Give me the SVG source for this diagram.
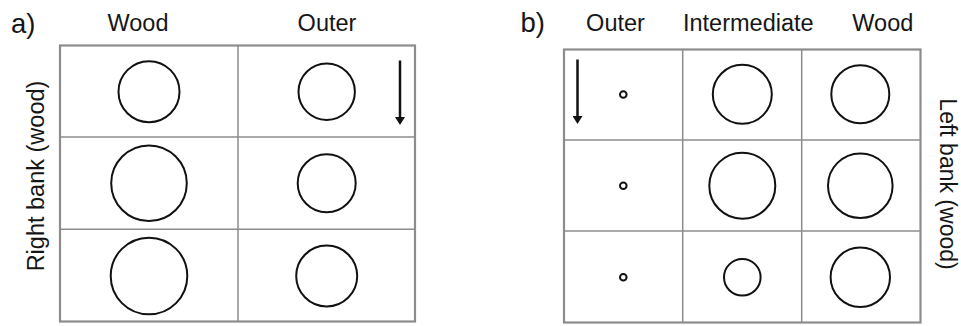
<svg xmlns="http://www.w3.org/2000/svg" width="961" height="326" viewBox="0 0 961 326">
<defs>
<style>
text{font-family:"Liberation Sans",Arial,sans-serif;fill:#161616}
.h{font-size:23.5px;text-anchor:middle}
.p{font-size:27.5px}
.grid{fill:none;stroke:#8c8c8c;stroke-width:1.5}
.frame{fill:none;stroke:#8c8c8c;stroke-width:2.2}
.c{fill:none;stroke:#111;stroke-width:2}
.arr{stroke:#111;stroke-width:2.5;fill:none}
</style>
<marker id="ah" markerWidth="10" markerHeight="10" refX="2" refY="5" orient="auto" markerUnits="userSpaceOnUse" viewBox="0 0 10 10">
<path d="M0,0 L8,5 L0,10 Z" fill="#111"/>
</marker>
</defs>
<g id="panel-a">
<text class="p" x="11" y="32.5">a)</text>
<text class="h" x="138" y="30.5">Wood</text>
<text class="h" x="327" y="30.5">Outer</text>
<text class="h" transform="translate(43.5,176) rotate(-90)" x="0" y="0">Right bank (wood)</text>
<rect class="frame" x="60" y="45.5" width="355" height="276"/>
<line class="grid" x1="238" y1="45.5" x2="238" y2="321.5"/>
<line class="grid" x1="60" y1="137" x2="415" y2="137"/>
<line class="grid" x1="60" y1="229.3" x2="415" y2="229.3"/>
</g>
<g id="a-r1c1"><circle class="c" cx="149" cy="91.7" r="30.5"/></g>
<g id="a-r1c2"><circle class="c" cx="326.7" cy="91.7" r="28.2"/></g>
<g id="a-r2c1"><circle class="c" cx="149" cy="183.3" r="37.8"/></g>
<g id="a-r2c2"><circle class="c" cx="326.7" cy="183.3" r="29"/></g>
<g id="a-r3c1"><circle class="c" cx="149" cy="276" r="38.3"/></g>
<g id="a-r3c2"><circle class="c" cx="326.7" cy="276" r="30.5"/></g>
<g id="panel-b">
<text class="p" x="520.5" y="32">b)</text>
<text class="h" x="615.5" y="31">Outer</text>
<text class="h" x="748.3" y="31">Intermediate</text>
<text class="h" x="882.8" y="31">Wood</text>
<text class="h" style="font-size:23px" transform="translate(939.5,184) rotate(90)" x="0" y="0">Left bank (wood)</text>
<rect class="frame" x="564" y="49.5" width="356.5" height="273"/>
<line class="grid" x1="682.7" y1="49.5" x2="682.7" y2="322.5"/>
<line class="grid" x1="801.7" y1="49.5" x2="801.7" y2="322.5"/>
<line class="grid" x1="564" y1="140" x2="920.5" y2="140"/>
<line class="grid" x1="564" y1="231" x2="920.5" y2="231"/>
</g>
<g id="b-r1c1"><circle class="c" cx="623.3" cy="94.5" r="3.3"/></g>
<g id="b-r2c1"><circle class="c" cx="623.3" cy="185.7" r="3.3"/></g>
<g id="b-r3c1"><circle class="c" cx="623.3" cy="277.3" r="3.3"/></g>
<g id="b-r1c2"><circle class="c" cx="742.3" cy="94.3" r="29.5"/></g>
<g id="b-r2c2"><circle class="c" cx="742.3" cy="185.7" r="33"/></g>
<g id="b-r3c2"><circle class="c" cx="742.3" cy="277.3" r="18.3"/></g>
<g id="b-r1c3"><circle class="c" cx="860.3" cy="94.3" r="29"/></g>
<g id="b-r2c3"><circle class="c" cx="860.3" cy="185.7" r="32.3"/></g>
<g id="b-r3c3"><circle class="c" cx="860.3" cy="277.3" r="29.7"/></g>
<g id="connectors">
<line class="arr" x1="400" y1="60.5" x2="400" y2="119" marker-end="url(#ah)"/>
<line class="arr" x1="577.5" y1="59.5" x2="577.5" y2="118" marker-end="url(#ah)"/>
</g>
</svg>
